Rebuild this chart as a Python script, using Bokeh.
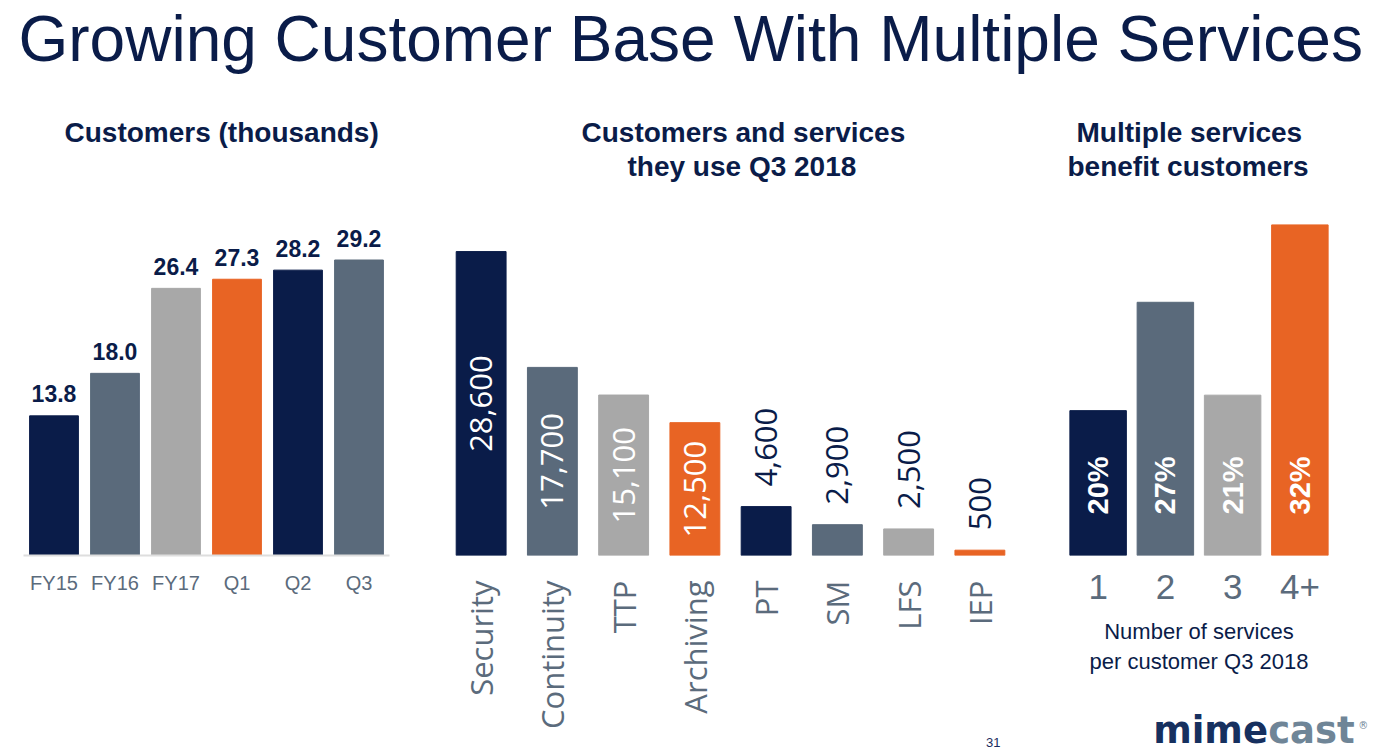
from math import pi
from bokeh.plotting import figure
from bokeh.models import ColumnDataSource, Range1d, Title
from bokeh.layouts import column, row
from bokeh.embed import file_html
from bokeh.resources import INLINE
from bokeh.core.properties import value
from bokeh.core.validation import silence
from bokeh.core.validation.warnings import MISSING_RENDERERS

silence(MISSING_RENDERERS, True)

# ---------------- data ----------------
periods = ["FY15", "FY16", "FY17", "Q1", "Q2", "Q3"]
customers_k = [13.8, 18.0, 26.4, 27.3, 28.2, 29.2]

services = ["Security", "Continuity", "TTP", "Archiving", "PT", "SM", "LFS", "IEP"]
service_customers = [28600, 17700, 15100, 12500, 4600, 2900, 2500, 500]

services_per_customer = ["1", "2", "3", "4+"]
customer_share_pct = [20, 27, 21, 32]

# ---------------- style ----------------
NAVY = "#0a1c49"
SLATE = "#5a6a7b"
GREY = "#a8a8a8"
ORANGE = "#e86424"
TICK = "#5b6b7c"
COLORS1 = [NAVY, SLATE, GREY, ORANGE, NAVY, SLATE]
COLORS2 = [NAVY, SLATE, GREY, ORANGE, NAVY, SLATE, GREY, ORANGE]
COLORS3 = [NAVY, SLATE, GREY, ORANGE]
ARIAL = "Liberation Sans"
SEGOE = "Open Sans"
ROW_H = 660
BOTTOM = 197


def strip(p):
    p.outline_line_color = None
    p.xgrid.grid_line_color = None
    p.ygrid.grid_line_color = None
    p.background_fill_color = "white"
    p.border_fill_color = "white"
    return p


def base_fig(**kw):
    p = figure(toolbar_location=None, output_backend="svg", title=None,
               y_axis_location=None, **kw)
    return strip(p)


def add_title(p, text, offset, standoff):
    p.add_layout(Title(text=text, align="left", offset=offset, standoff=standoff,
                       text_font=ARIAL, text_font_size="28px",
                       text_font_style="bold", text_color=NAVY), "above")


# ---------------- page title ----------------
head = figure(width=1375, height=92, x_axis_location=None, y_axis_location=None,
              toolbar_location=None, output_backend="svg", min_border=0)
strip(head)
head.title.text = "Growing Customer Base With Multiple Services"
head.title.text_font = ARIAL
head.title.text_font_size = "64px"
head.title.text_font_style = "normal"
head.title.text_color = NAVY
head.title.align = "left"
head.title.offset = 18
head.title.standoff = 0

# ---------------- chart 1: customers ----------------
p1 = base_fig(width=420, height=ROW_H, x_range=periods, y_range=Range1d(0, 36.86),
              min_border_left=23, min_border_right=31, min_border_top=90,
              min_border_bottom=BOTTOM)
src1 = ColumnDataSource(dict(x=periods, y=customers_k,
                             label=[f"{v:.1f}" for v in customers_k],
                             color=COLORS1))
p1.vbar(x="x", top="y", width=0.8, color="color", source=src1)
p1.text(x="x", y="y", text="label", source=src1, text_align="center",
        text_baseline="alphabetic", y_offset=-22, text_font=value(ARIAL),
        text_font_size="23px", text_font_style="bold", text_color=NAVY)
ax = p1.xaxis[0]
ax.axis_line_color = "#dedede"
ax.axis_line_width = 2
ax.major_tick_line_color = None
ax.minor_tick_line_color = None
ax.major_label_text_font = ARIAL
ax.major_label_text_font_size = "20px"
ax.major_label_text_color = TICK
ax.major_label_standoff = 10
add_title(p1, " ", 41, 2)
add_title(p1, "Customers (thousands)", 41, 0)

# ---------------- chart 2: services ----------------
p2 = base_fig(width=620, height=ROW_H, x_range=services, y_range=Range1d(0, 35100),
              min_border_left=25, min_border_right=25, min_border_top=90,
              min_border_bottom=BOTTOM)
src2 = ColumnDataSource(dict(x=services, y=service_customers, color=COLORS2))
p2.vbar(x="x", top="y", width=0.7, color="color", source=src2)
threshold = 0.3 * max(service_customers)
inside = [i for i, v in enumerate(service_customers) if v >= threshold]
outside = [i for i, v in enumerate(service_customers) if v < threshold]
src2_in = ColumnDataSource(dict(x=[services[i] for i in inside],
                                y=[service_customers[i] / 2 for i in inside],
                                label=[f"{service_customers[i]:,}" for i in inside]))
src2_out = ColumnDataSource(dict(x=[services[i] for i in outside],
                                 y=[service_customers[i] for i in outside],
                                 label=[f"{service_customers[i]:,}" for i in outside]))
p2.text(x="x", y="y", text="label", source=src2_in, angle=pi / 2,
        text_align="center", text_baseline="middle", text_font=value(SEGOE),
        text_font_size="31px", text_color="white")
p2.text(x="x", y="y", text="label", source=src2_out, angle=pi / 2, y_offset=-20,
        text_align="left", text_baseline="middle", text_font=value(SEGOE),
        text_font_size="31px", text_color=NAVY)
ax = p2.xaxis[0]
ax.axis_line_color = None
ax.major_tick_line_color = None
ax.minor_tick_line_color = None
ax.major_label_orientation = pi / 2
ax.major_label_text_font = SEGOE
ax.major_label_text_font_size = "31px"
ax.major_label_text_color = TICK
ax.major_label_standoff = 19
add_title(p2, "they use Q3 2018", 182, 2)
add_title(p2, "Customers and services", 136, 0)
p2.add_layout(Title(text="31", align="right", offset=15, standoff=8,
                    text_font=ARIAL, text_font_size="13px",
                    text_font_style="normal", text_color="#1b2b5e"), "below")

# ---------------- chart 3: services per customer ----------------
Y3_START = 10.64
p3 = base_fig(width=335, height=ROW_H, x_range=services_per_customer,
              y_range=Range1d(Y3_START, 34.74),
              min_border_left=24, min_border_right=42, min_border_top=90,
              min_border_bottom=BOTTOM)
src3 = ColumnDataSource(dict(x=services_per_customer, y=customer_share_pct,
                             base=[Y3_START] * len(customer_share_pct),
                             label=[f"{v}%" for v in customer_share_pct],
                             color=COLORS3))
p3.vbar(x="x", top="y", bottom="base", width=0.84, color="color", source=src3)
p3.text(x="x", y="base", text="label", source=src3, angle=pi / 2, y_offset=-41,
        text_align="left", text_baseline="middle", text_font=value(ARIAL),
        text_font_size="29px", text_font_style="bold", text_color="white")
ax = p3.xaxis[0]
ax.axis_line_color = None
ax.major_tick_line_color = None
ax.minor_tick_line_color = None
ax.major_label_text_font = ARIAL
ax.major_label_text_font_size = "35px"
ax.major_label_text_color = TICK
ax.major_label_standoff = 13
ax.axis_label = "Number of services"
ax.axis_label_text_font = ARIAL
ax.axis_label_text_font_size = "22px"
ax.axis_label_text_font_style = "normal"
ax.axis_label_text_color = NAVY
ax.axis_label_standoff = 17
add_title(p3, "benefit customers", 3, 2)
add_title(p3, "Multiple services", 12, 0)
p3.add_layout(Title(text="per customer Q3 2018", align="center", standoff=0,
                    text_font=ARIAL, text_font_size="22px",
                    text_font_style="normal", text_color=NAVY), "below")

# logo (decoration, drawn on the overlay level so it is not clipped to the frame)
logo_src = ColumnDataSource(dict(x=[services_per_customer[0]] * 3,
                                 y=[Y3_START] * 3,
                                 text=["mime", "cast", "®"],
                                 dx=[55, 170, 260], dy=[175, 175, 170],
                                 size=["37px", "37px", "10px"],
                                 style=["bold", "bold", "normal"],
                                 color=["#16305f", "#6f8597", "#6f8597"]))
p3.text(x="x", y="y", text="text", x_offset="dx", y_offset="dy", source=logo_src,
        text_font=value("DejaVu Sans"), text_font_size="size",
        text_font_style="style", text_color="color", text_align="left",
        text_baseline="alphabetic", level="overlay")

layout = column(head, row(p1, p2, p3, spacing=0), spacing=0)
open("out.html", "w").write(file_html(layout, INLINE))
